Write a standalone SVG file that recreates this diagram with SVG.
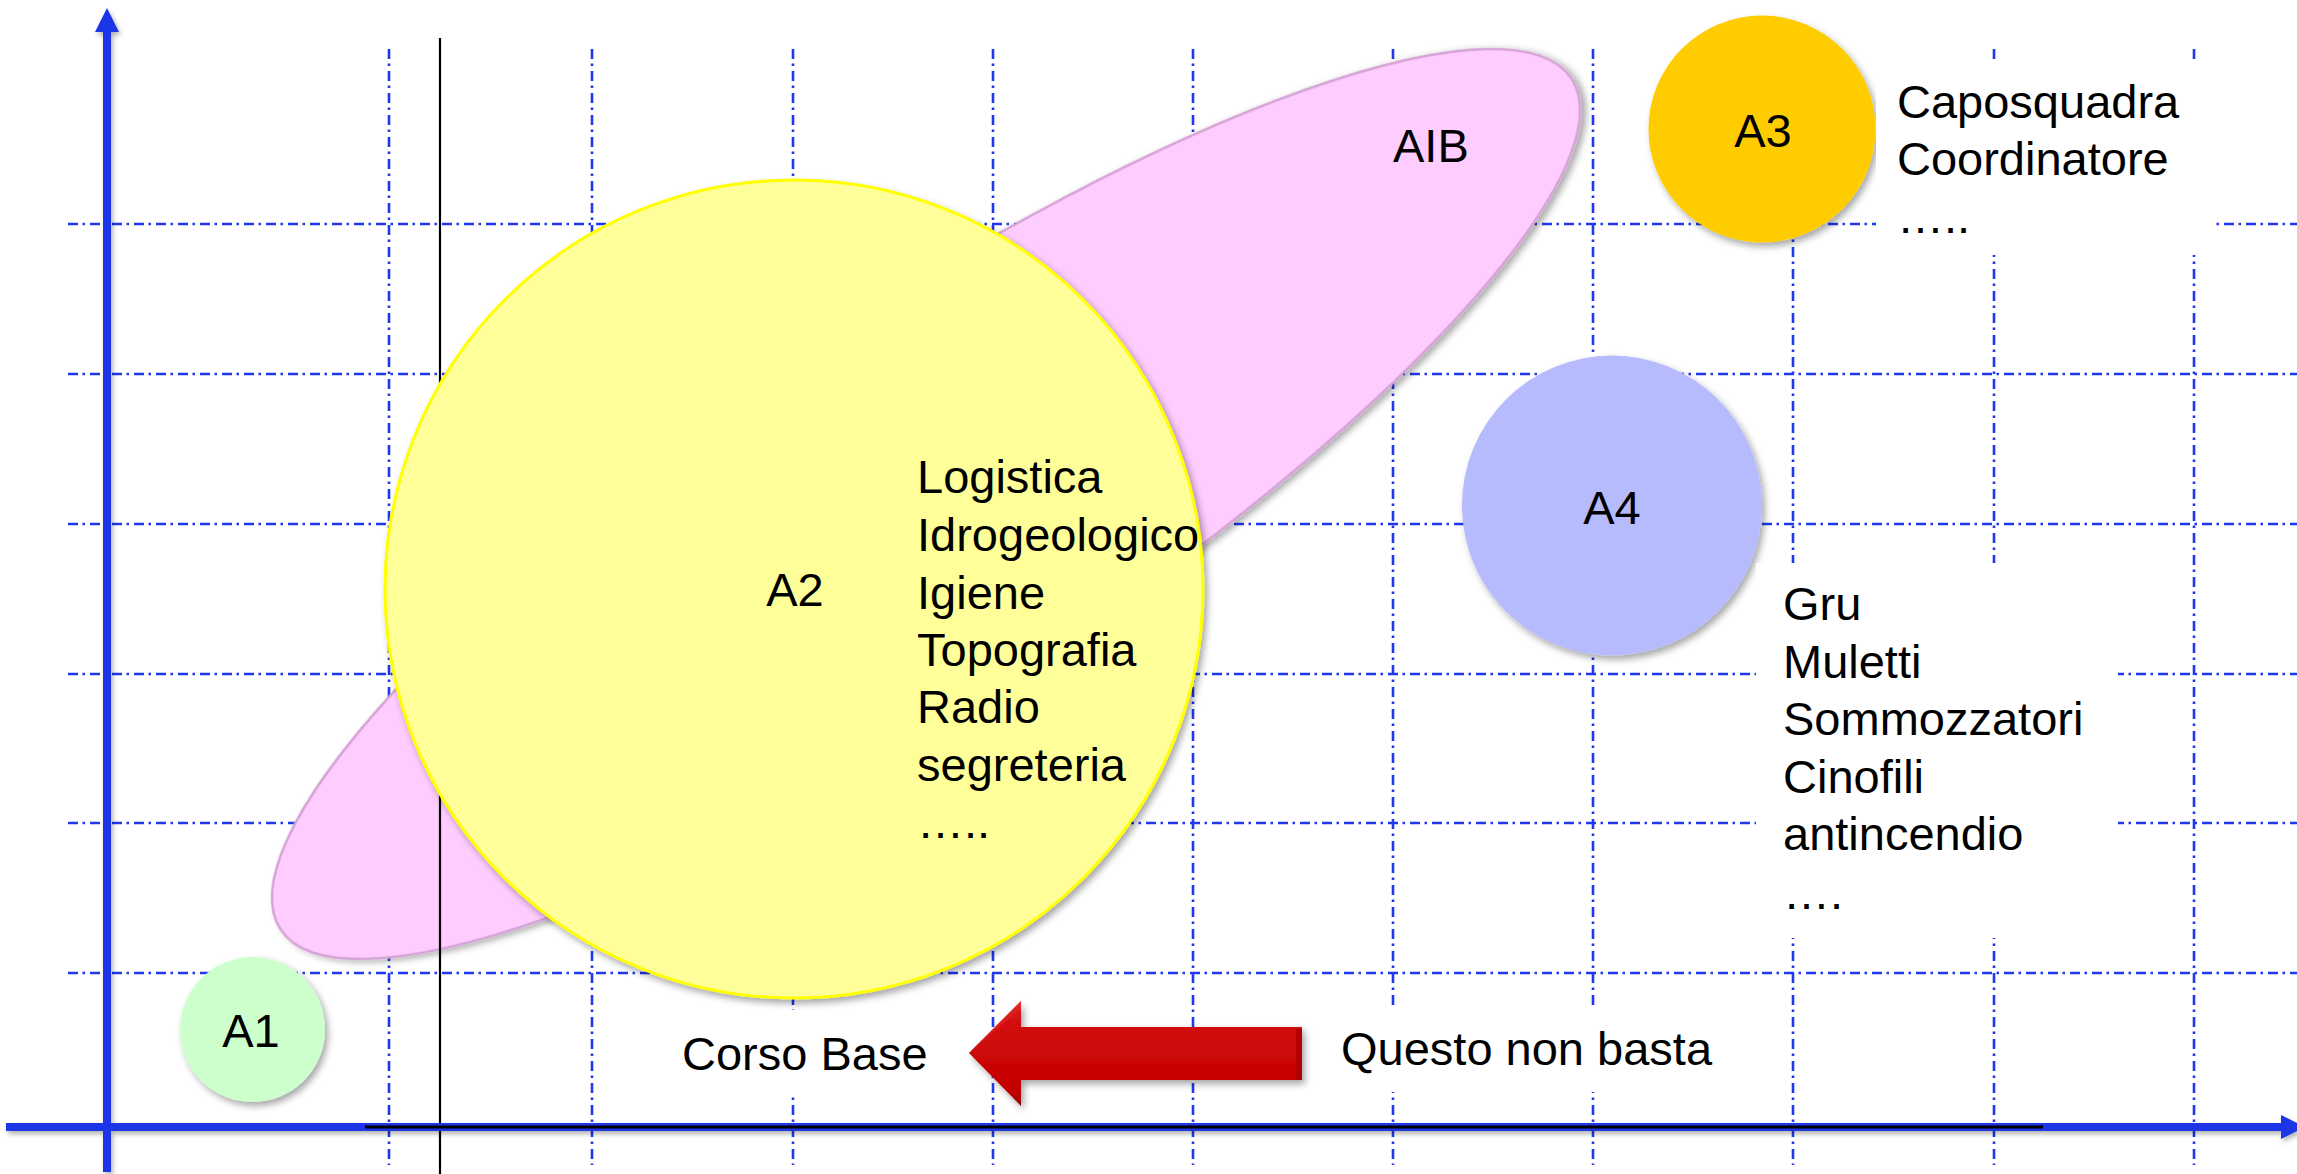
<svg xmlns="http://www.w3.org/2000/svg" width="2297" height="1174" viewBox="0 0 2297 1174">
<defs>
<style>
.grid{stroke:#1f38ee;stroke-width:2.6;stroke-dasharray:10 4.5 2.5 5;fill:none}
.t{font-family:"Liberation Sans",Arial,sans-serif;font-size:47px;fill:#000}
.c{text-anchor:middle}
.axis{stroke:#1c34e6;stroke-width:8;fill:none}
.box{fill:#fff;stroke:none}
</style>
<filter id="sh" x="-10%" y="-10%" width="125%" height="125%">
<feDropShadow dx="3" dy="4" stdDeviation="3.5" flood-color="#000" flood-opacity="0.35"/>
</filter>
<filter id="shs" x="-5%" y="-50%" width="110%" height="200%">
<feDropShadow dx="2" dy="3" stdDeviation="2.5" flood-color="#000" flood-opacity="0.3"/>
</filter>
<linearGradient id="red" x1="0" y1="0" x2="0" y2="1">
<stop offset="0" stop-color="#f03a3a"/>
<stop offset="0.1" stop-color="#d41414"/>
<stop offset="0.5" stop-color="#cc0707"/>
<stop offset="0.88" stop-color="#c20404"/>
<stop offset="1" stop-color="#8c0000"/>
</linearGradient>
</defs>
<rect width="2297" height="1174" fill="#fff"/>

<g id="grid">
<path class="grid" d="M389 49V1165M592 49V1165M793 49V1165M993 49V1165M1193 49V1165M1393 49V1165M1593 49V1165M1793 49V1165M1994 49V1165M2194 49V1165"/>
<path class="grid" d="M68 224H2297M68 374H2297M68 524H2297M68 674H2297M68 823H2297M68 973H2297"/>
</g>

<g id="AIB">
<ellipse cx="926" cy="504" rx="773" ry="193" transform="rotate(-33.4 926 504)" fill="#ffccff" stroke="#d4a2d4" stroke-width="2.5" filter="url(#sh)"/>
<text class="t" x="1393" y="162">AIB</text>
</g>

<g id="ref-line">
<line x1="440" y1="38" x2="440" y2="1174" stroke="#000" stroke-width="2.2"/>
</g>

<g id="A2">
<circle cx="794" cy="589" r="409" fill="#ffff99" stroke="#ffff00" stroke-width="3" filter="url(#sh)"/>
<text class="t c" x="795" y="606">A2</text>
<text class="t" x="917"><tspan x="917" y="493">Logistica</tspan><tspan x="917" y="551">Idrogeologico</tspan><tspan x="917" y="609">Igiene</tspan><tspan x="917" y="666">Topografia</tspan><tspan x="917" y="723">Radio</tspan><tspan x="917" y="781">segreteria</tspan><tspan x="917" y="838">…..</tspan></text>
</g>

<g id="A1">
<circle cx="252.5" cy="1029.5" r="72.5" fill="#ccffcc" filter="url(#sh)"/>
<text class="t c" x="251" y="1047">A1</text>
</g>

<g id="A3">
<circle cx="1762" cy="129" r="113.5" fill="#ffcc00" filter="url(#sh)"/>
<text class="t c" x="1763" y="147">A3</text>
</g>

<g id="A3-roles">
<rect class="box" x="1876" y="62" width="340" height="193"/>
<text class="t"><tspan x="1897" y="118">Caposquadra</tspan><tspan x="1897" y="175">Coordinatore</tspan><tspan x="1897" y="233">…..</tspan></text>
</g>

<g id="A4">
<circle cx="1612" cy="505.5" r="150" fill="#b6bbfd" filter="url(#sh)"/>
<text class="t c" x="1612" y="524">A4</text>
</g>

<g id="A4-roles">
<rect class="box" x="1756" y="563" width="362" height="375"/>
<text class="t"><tspan x="1783" y="620">Gru</tspan><tspan x="1783" y="678">Muletti</tspan><tspan x="1783" y="735">Sommozzatori</tspan><tspan x="1783" y="793">Cinofili</tspan><tspan x="1783" y="850">antincendio</tspan><tspan x="1783" y="909">….</tspan></text>
</g>

<g id="corso-base">
<rect class="box" x="660" y="1010" width="295" height="83"/>
<text class="t" x="682" y="1070">Corso Base</text>
</g>

<g id="questo">
<rect class="box" x="1330" y="1008" width="395" height="84"/>
<text class="t" x="1341" y="1065">Questo non basta</text>
</g>

<g id="connectors">
<g filter="url(#shs)">
<path class="axis" d="M6 1127H2284"/>
<path d="M2281 1115L2305 1127L2281 1139Z" fill="#1c34e6"/>
<path class="axis" d="M107 1172V30"/>
<path d="M95 32L107 8L119 32Z" fill="#1c34e6"/>
</g>
<line x1="365" y1="1127" x2="2043" y2="1127" stroke="#000" stroke-width="3"/>
<g id="arrow" filter="url(#sh)">
<path d="M969 1053L1021 1001V1027H1302V1080H1021V1106Z" fill="url(#red)"/>
<path d="M969 1053L1021 1001V1008Z" fill="#e02828" opacity="0.6"/>
<path d="M1296 1029H1302V1080H1296Z" fill="#a00000" opacity="0.6"/>
</g>
</g>
</svg>
